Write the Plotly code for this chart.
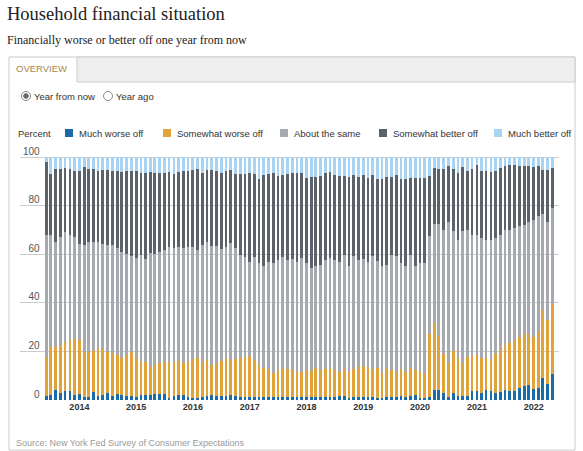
import pandas as pd
import plotly.graph_objects as go

# monthly survey dates, June 2013 - May 2022
months = pd.date_range("2013-06-01", periods=108, freq="MS")

much_worse = [
    1.6, 2.1, 4.1, 2.7, 3.8, 3.7, 2.1, 2.5, 1.4, 1.4, 3.4, 1.6, 2.1, 2.7, 1.6, 2.5, 2.1, 1.8,
    1.6, 1.4, 2.1, 2.1, 2.2, 2.5, 2.5, 2.5, 0.7, 1.6, 1.9, 1.9, 1.4, 0.8, 0.7, 1.4, 1.6, 2.1,
    1.6, 1.6, 1.6, 1.9, 1.6, 1.4, 1.4, 1.1, 1.1, 1.4, 1.1, 1.1, 1.1, 1.1, 1.1, 1.1, 1.1, 1.1,
    1.1, 1.4, 1.1, 1.4, 1.1, 1.1, 1.4, 1.1, 1.8, 1.8, 0.7, 1.1, 1.4, 1.1, 1.4, 1.1, 0.8, 0.7,
    1.4, 1.4, 1.4, 1.6, 1.4, 1.6, 1.9, 0.7, 0.8, 1.2, 4.1, 4.1, 2.7, 1.4, 2.7, 1.6, 1.6, 1.6,
    3.8, 3.7, 3.0, 4.1, 3.8, 3.0, 3.4, 4.1, 3.8, 3.8, 5.0, 5.6, 6.1, 4.5, 5.0, 9.0, 6.6, 10.7,
]
somewhat_worse = [
    16.3, 19.9, 17.6, 19.9, 20.2, 21.0, 22.9, 22.2, 18.5, 18.5, 16.9, 19.7, 18.8, 17.2, 17.6, 16.1, 15.1, 16.8,
    18.3, 15.8, 13.7, 13.7, 11.5, 11.9, 12.6, 13.3, 15.1, 14.2, 14.6, 13.5, 14.8, 16.0, 16.5, 14.4, 14.9, 12.3,
    13.8, 14.6, 15.6, 14.6, 15.2, 15.8, 16.5, 17.0, 15.4, 13.4, 11.9, 11.3, 10.2, 11.3, 11.9, 11.5, 11.3, 10.6,
    10.6, 11.0, 11.0, 11.6, 11.3, 11.5, 11.6, 11.3, 9.9, 10.8, 11.0, 11.5, 12.1, 12.9, 11.6, 11.5, 12.2, 10.5,
    11.6, 11.0, 10.3, 11.0, 10.3, 11.4, 10.5, 11.0, 10.2, 25.8, 27.5, 22.4, 16.3, 13.7, 17.3, 15.6, 13.5, 16.3,
    14.8, 14.9, 14.2, 13.1, 12.7, 16.0, 17.2, 18.6, 19.6, 20.9, 21.1, 21.9, 20.7, 21.6, 23.2, 28.1, 26.4, 28.8,
]
about_same = [
    49.9, 45.8, 43.3, 44.4, 45.3, 43.3, 42.3, 39.6, 44.0, 45.1, 44.9, 43.9, 43.4, 44.0, 44.7, 43.9, 43.6, 41.5,
    39.2, 41.2, 44.0, 42.3, 46.8, 45.8, 45.8, 45.8, 47.1, 46.7, 46.4, 47.1, 46.6, 46.1, 44.6, 48.1, 48.7, 49.1,
    48.1, 45.9, 46.0, 48.3, 45.7, 42.6, 40.9, 38.9, 42.3, 41.5, 42.2, 44.6, 45.3, 45.3, 45.8, 45.1, 45.5, 45.3,
    46.7, 43.9, 42.2, 42.2, 43.3, 45.1, 45.4, 45.3, 45.3, 47.2, 43.5, 46.5, 44.2, 43.9, 44.0, 46.5, 44.4, 44.0,
    42.7, 47.4, 47.4, 44.0, 43.5, 46.8, 42.8, 44.9, 45.6, 40.5, 40.9, 46.0, 51.1, 58.4, 49.4, 48.8, 54.3, 52.2,
    49.4, 49.4, 49.4, 48.7, 49.4, 47.6, 47.4, 47.4, 46.7, 46.1, 45.4, 44.7, 46.7, 48.1, 47.4, 39.6, 40.1, 39.5,
]
somewhat_better = [
    30.2, 25.2, 30.0, 28.0, 26.2, 27.0, 27.0, 30.0, 32.1, 30.0, 29.8, 29.3, 30.5, 30.9, 30.6, 32.0, 32.9, 34.0,
    35.2, 36.1, 33.6, 35.2, 33.5, 33.2, 32.5, 31.8, 30.9, 30.7, 30.9, 31.6, 31.5, 31.9, 33.2, 29.5, 29.5, 31.3,
    30.6, 31.4, 30.9, 29.9, 30.5, 33.2, 34.2, 36.4, 34.2, 34.7, 37.5, 36.0, 36.8, 34.6, 33.9, 35.3, 35.5, 36.4,
    35.0, 35.1, 37.4, 36.6, 36.6, 35.7, 35.3, 35.0, 35.3, 32.5, 36.6, 33.6, 34.3, 34.8, 34.4, 33.6, 33.7, 35.8,
    36.3, 32.0, 33.6, 34.4, 35.9, 31.6, 36.2, 34.8, 34.8, 24.8, 23.0, 22.5, 24.9, 22.9, 25.6, 27.6, 26.5, 24.4,
    27.0, 28.9, 27.6, 28.3, 27.9, 27.6, 27.5, 26.4, 26.8, 26.1, 24.7, 24.0, 22.7, 21.7, 20.8, 18.1, 21.5, 16.5,
]
much_better = [
    2.0, 7.0, 5.0, 5.0, 4.5, 5.0, 5.7, 5.7, 4.0, 5.0, 5.0, 5.5, 5.2, 5.2, 5.5, 5.5, 6.3, 5.9,
    5.7, 5.5, 6.6, 6.7, 6.0, 6.6, 6.6, 6.6, 6.2, 6.8, 6.2, 5.9, 5.7, 5.2, 5.0, 6.6, 5.3, 5.2,
    5.9, 6.5, 5.9, 5.3, 7.0, 7.0, 7.0, 6.6, 7.0, 9.0, 7.3, 7.0, 6.6, 7.7, 7.3, 7.0, 6.6, 6.6,
    6.6, 8.6, 8.3, 8.2, 7.7, 6.6, 6.3, 7.3, 7.7, 7.7, 8.2, 7.3, 8.0, 7.3, 8.6, 7.3, 8.9, 9.0,
    8.0, 8.2, 7.3, 9.0, 8.9, 8.6, 8.6, 8.6, 8.6, 7.7, 4.5, 5.0, 5.0, 3.6, 5.0, 6.4, 4.1, 5.5,
    5.0, 3.1, 5.8, 5.8, 6.2, 5.8, 4.5, 3.5, 3.1, 3.1, 3.8, 3.8, 3.8, 4.1, 3.6, 5.2, 5.4, 4.5,
]

series_names = ["Much worse off", "Somewhat worse off", "About the same",
                "Somewhat better off", "Much better off"]
series_values = [much_worse, somewhat_worse, about_same, somewhat_better, much_better]
colors = ["#1b6ba6", "#e2a33b", "#a7a9b0", "#5c6269", "#a9d3f2"]
y_ticks = [0, 20, 40, 60, 80, 100]

SANS = "Liberation Sans, Arial, sans-serif"
SERIF = "Liberation Serif, Georgia, serif"

# page pixels; the plot area reaches a little above 100 so the
# raised "100" label still fits inside it
W, H = 583, 451
Y_MAX = 105
PLOT_X0, PLOT_X1, PLOT_Y1 = 20, 559, 400
PX_PER_UNIT = 2.43
PLOT_Y0 = round(PLOT_Y1 - Y_MAX * PX_PER_UNIT)
PW, PH = PLOT_X1 - PLOT_X0, PLOT_Y1 - PLOT_Y0


def px(x):
    return (x - PLOT_X0) / PW


def py(y):
    return (PLOT_Y1 - y) / PH


fig = go.Figure()
for name, vals, col in zip(series_names, series_values, colors):
    fig.add_trace(go.Bar(
        x=months, y=vals, name=name,
        marker=dict(color=col, line=dict(width=0)),
        showlegend=False,
    ))

shapes = []
annotations = []


def text(x, y, s, size, color, family=SANS):
    annotations.append(dict(
        x=px(x), y=py(y), xref="paper", yref="paper", text=s, showarrow=False,
        xanchor="left", yanchor="middle", font=dict(size=size, color=color, family=family),
    ))


def rect(x0, y0, x1, y1, fill=None, line="#cccccc"):
    shapes.append(dict(
        type="rect", xref="paper", yref="paper",
        x0=px(x0), x1=px(x1), y0=py(y1), y1=py(y0),
        fillcolor=fill if fill else "rgba(0,0,0,0)",
        line=dict(color=line if line else "rgba(0,0,0,0)", width=1 if line else 0),
        layer="below",
    ))


def circle(cx, cy, r, fill, line):
    shapes.append(dict(
        type="circle", xref="paper", yref="paper",
        x0=px(cx - r), x1=px(cx + r), y0=py(cy + r), y1=py(cy - r),
        fillcolor=fill, line=dict(color=line, width=1),
    ))


# header
text(5, 14, "Household financial situation", 18.5, "#222222", SERIF)
text(5, 40, "Financially worse or better off one year from now", 12, "#222222", SERIF)

# container and tab bar
rect(9, 57, 575, 450)
rect(77, 57, 575, 82, fill="#eeeeee")
text(14, 69, "OVERVIEW", 9.5, "#a8884f")

# radio buttons
circle(26, 96, 4.5, "white", "#888888")
circle(26, 96, 2.3, "#666666", "#666666")
text(32, 96, "Year from now", 9.5, "#333333")
circle(108, 96, 4.5, "white", "#888888")
text(114, 96, "Year ago", 9.5, "#333333")

# legend row
text(16, 133, "Percent", 9.5, "#333333")
legend_x = [65, 163, 280, 379, 494]
for lx, name, col in zip(legend_x, series_names, colors):
    rect(lx, 129, lx + 8, 137, fill=col, line=None)
    text(lx + 12, 133, name, 9.5, "#333333")

# source
text(14, 443, "Source: New York Fed Survey of Consumer Expectations", 9, "#999999")

fig.update_layout(
    width=W, height=H,
    margin=dict(l=PLOT_X0, r=W - PLOT_X1, t=PLOT_Y0, b=H - PLOT_Y1),
    barmode="stack", bargap=0.36,
    plot_bgcolor="white", paper_bgcolor="white",
    font=dict(family=SANS, color="#333333"),
    shapes=shapes, annotations=annotations,
    xaxis=dict(
        type="date", range=["2012-12-15", "2022-06-13"],
        tick0="2014-01-01", dtick="M12", tickformat="%Y",
        showgrid=False, zeroline=False, showline=False, ticks="",
        tickfont=dict(size=9, color="#333333", weight="bold"),
    ),
    yaxis=dict(
        range=[0, Y_MAX], tickvals=y_ticks,
        # pad with figure spaces so the labels line up on the right
        ticktext=[str(v).rjust(3, "\u2007") for v in y_ticks],
        ticklabelposition="inside", ticklabelshift=-6,
        showgrid=True, gridcolor="#cccccc", gridwidth=1,
        zeroline=False, showline=False, ticks="",
        tickfont=dict(size=10, color="#555555"),
    ),
)

# drop the default body margin so the figure sits at the page corner
fig.write_html(
    "out.html",
    config={"displayModeBar": False},
    post_script="document.body.style.margin='0';document.body.style.overflow='hidden';",
)
